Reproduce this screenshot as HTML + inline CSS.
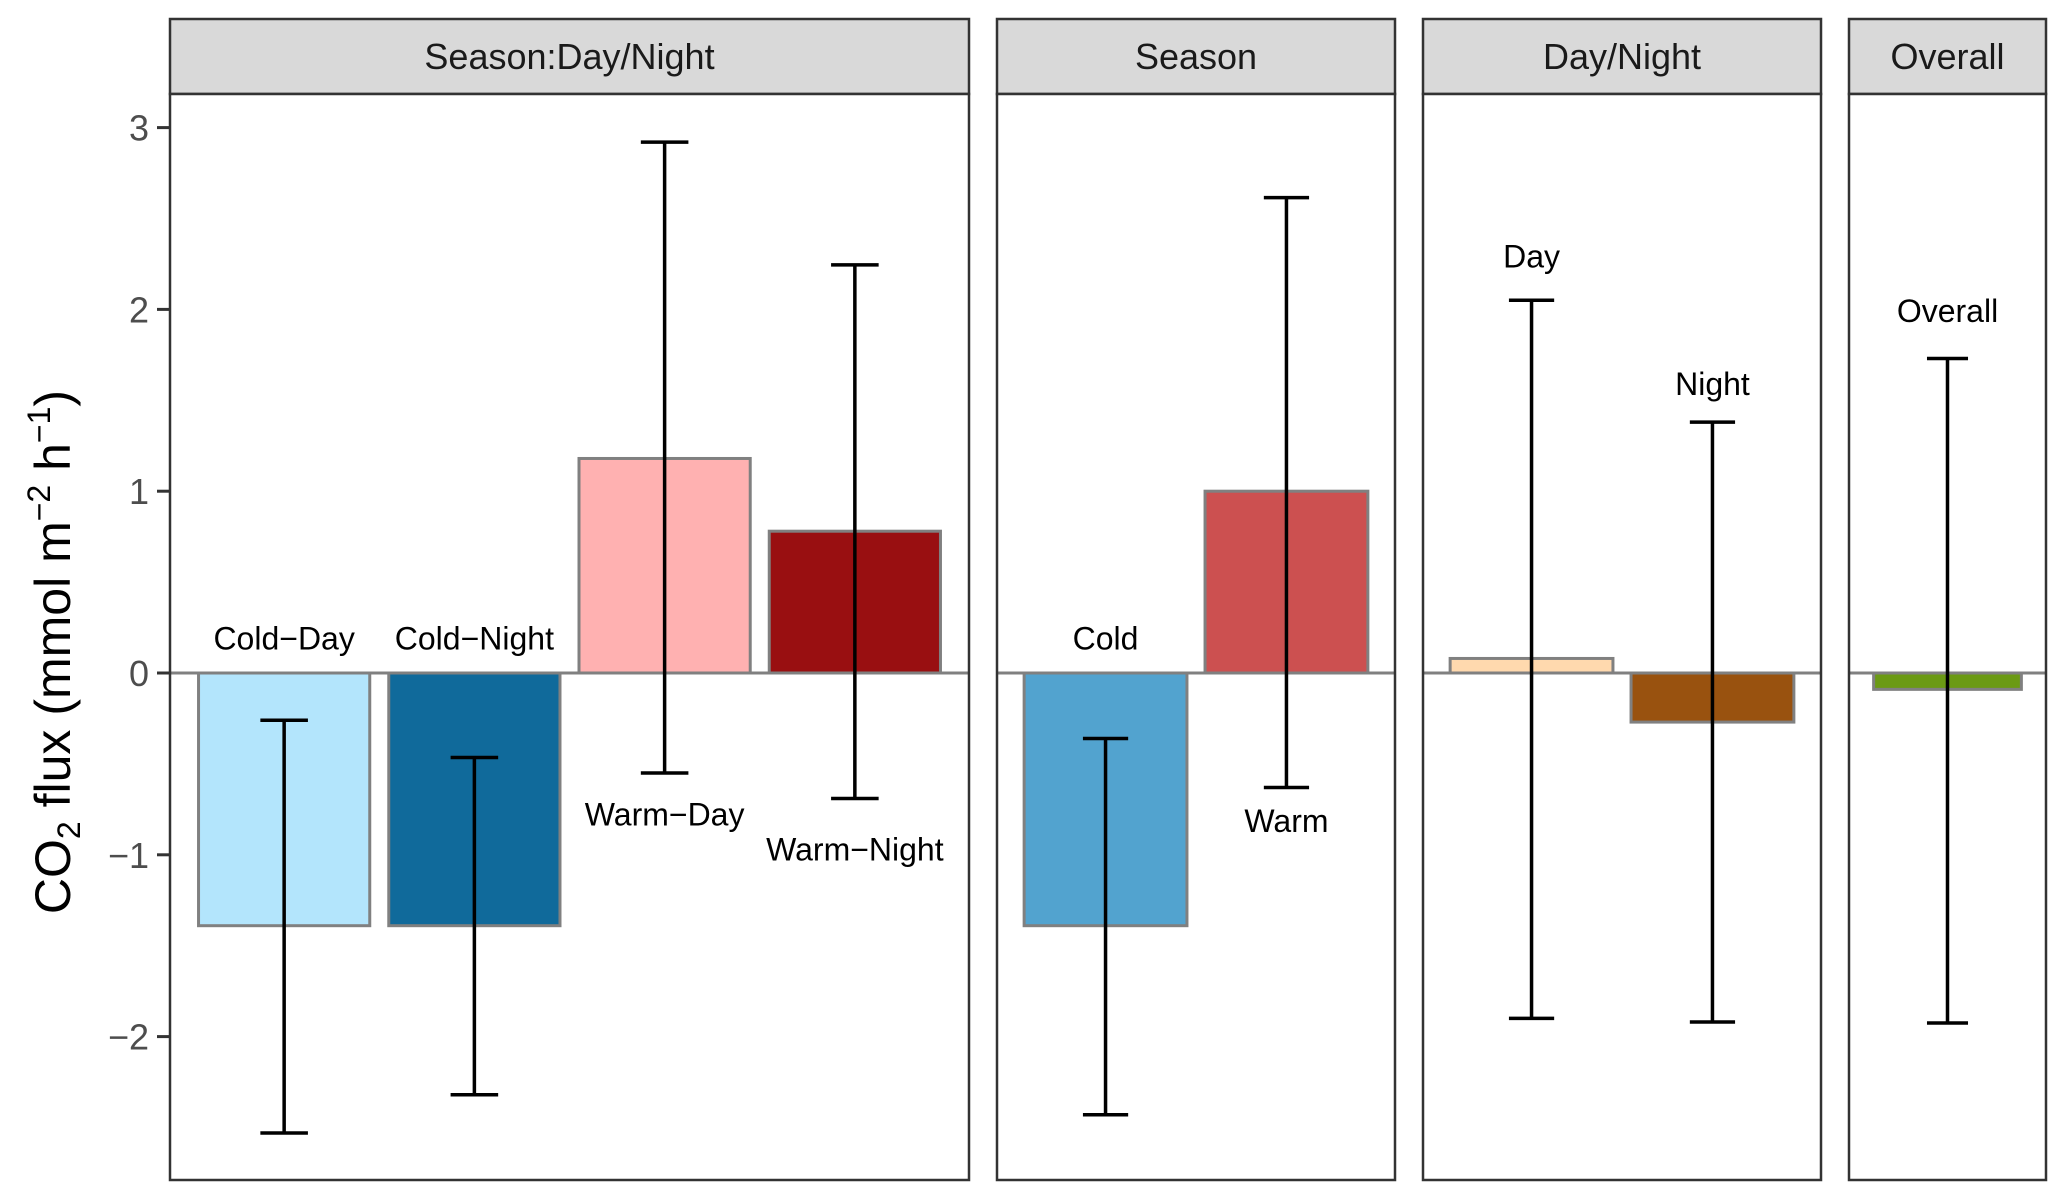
<!DOCTYPE html>
<html><head><meta charset="utf-8">
<style>
html,body{margin:0;padding:0;background:#fff;}
svg{display:block;font-family:"Liberation Sans",Arial,sans-serif;}
</style></head>
<body>
<svg id="chart" width="2067" height="1199" viewBox="0 0 2067 1199" xmlns="http://www.w3.org/2000/svg"></svg>
<script>
// ---- data ----
const panelTitles = ["Season:Day/Night", "Season", "Day/Night", "Overall"];
const panelCategories = [
  ["Cold\u2212Day", "Cold\u2212Night", "Warm\u2212Day", "Warm\u2212Night"],
  ["Cold", "Warm"],
  ["Day", "Night"],
  ["Overall"]
];
const barValues = [
  [-1.39, -1.39, 1.18, 0.78],
  [-1.39, 1.00],
  [0.08, -0.27],
  [-0.09]
];
const errUpper = [
  [-0.26, -0.465, 2.92, 2.245],
  [-0.36, 2.615],
  [2.05, 1.38],
  [1.73]
];
const errLower = [
  [-2.53, -2.32, -0.55, -0.69],
  [-2.43, -0.63],
  [-1.90, -1.92],
  [-1.925]
];
const labelValues = [
  [0.13, 0.13, -0.84, -1.03],
  [0.13, -0.875],
  [2.23, 1.53],
  [1.93]
];
const barColors = [
  ["#b3e5fc", "#106a9b", "#ffb1b1", "#990f11"],
  ["#52a3cf", "#cc5050"],
  ["#ffd9ae", "#99520f"],
  ["#6b9a14"]
];
const yTicks = [-2, -1, 0, 1, 2, 3];
const yTickLabels = ["\u22122", "\u22121", "0", "1", "2", "3"];

// ---- layout ----
const NS = "http://www.w3.org/2000/svg";
const svg = document.getElementById("chart");
const panelX = [[170, 969], [997, 1395], [1423, 1821], [1849, 2046]];
const stripTop = 19, stripBot = 94, plotBot = 1180;
const y0px = 673, unitPx = 181.8;
function yScale(v) { return y0px - v * unitPx; }
function xScale(p, i) {
  const n = panelCategories[p].length;
  const [a, b] = panelX[p];
  const w = (b - a) / (n + 0.2);
  return a + (i + 1 - 0.4) * w;
}
function unitW(p) { const [a, b] = panelX[p]; return (b - a) / (panelCategories[p].length + 0.2); }
function mk(tag, attrs, parent) {
  const e = document.createElementNS(NS, tag);
  for (const k in attrs) e.setAttribute(k, attrs[k]);
  (parent || svg).appendChild(e);
  return e;
}

// y axis title
const yt = mk("text", {x: 0, y: 0, "font-size": 50, fill: "#000", "text-anchor": "middle",
  transform: "translate(70,652) rotate(-90)"});


yt.innerHTML = 'CO<tspan font-size="32" dy="10">2</tspan><tspan dy="-10"> flux (mmol m</tspan><tspan font-size="32" dy="-20">\u22122</tspan><tspan dy="20"> h</tspan><tspan font-size="32" dy="-20">\u22121</tspan><tspan dy="20">)</tspan>';

// y ticks
yTicks.forEach((t, i) => {
  const y = yScale(t);
  const tk = mk("line", {x1: 157, x2: 170, y1: y, y2: y, stroke: "#333", "stroke-width": 3});
  
  
  const tl = mk("text", {x: 149, y: y + 13, "font-size": 36, fill: "#4d4d4d", "text-anchor": "end"});
  
  
  tl.textContent = yTickLabels[i];
});

panelTitles.forEach((title, p) => {
  const [a, b] = panelX[p];
  const g = mk("g", {});
  
  
  const strip = mk("rect", {x: a, y: stripTop, width: b - a, height: stripBot - stripTop, fill: "#d9d9d9", stroke: "#333", "stroke-width": 2.5}, g);
  
  
  const st = mk("text", {x: (a + b) / 2, y: 69, "font-size": 36, fill: "#1a1a1a", "text-anchor": "middle"}, g);
  
  
  st.textContent = title;
  const bg = mk("rect", {x: a, y: stripBot, width: b - a, height: plotBot - stripBot, fill: "#fff"}, g);
  
  
  const zl = mk("line", {x1: a, x2: b, y1: yScale(0), y2: yScale(0), stroke: "#808080", "stroke-width": 3}, g);
  
  
  const uw = unitW(p);
  panelCategories[p].forEach((cat, i) => {
    const cx = xScale(p, i);
    const v = barValues[p][i];
    const bw = uw * 0.9;
    const r = mk("rect", {x: cx - bw / 2, y: Math.min(yScale(v), yScale(0)), width: bw,
      height: Math.abs(yScale(v) - yScale(0)), fill: barColors[p][i], stroke: "#808080", "stroke-width": 3}, g);
    
    
    const cw = uw * 0.25;
    const eb = mk("path", {d: `M${cx - cw / 2},${yScale(errUpper[p][i])}H${cx + cw / 2}M${cx},${yScale(errUpper[p][i])}V${yScale(errLower[p][i])}M${cx - cw / 2},${yScale(errLower[p][i])}H${cx + cw / 2}`,
      stroke: "#000", "stroke-width": 3.5, fill: "none"}, g);
    
    
    const lt = mk("text", {x: cx, y: yScale(labelValues[p][i]), "font-size": 32, fill: "#000", "text-anchor": "middle"}, g);
    
    
    lt.textContent = cat;
  });
  const bd = mk("rect", {x: a, y: stripBot, width: b - a, height: plotBot - stripBot, fill: "none", stroke: "#333", "stroke-width": 2.5}, g);
  
  
});
</script>
</body></html>
